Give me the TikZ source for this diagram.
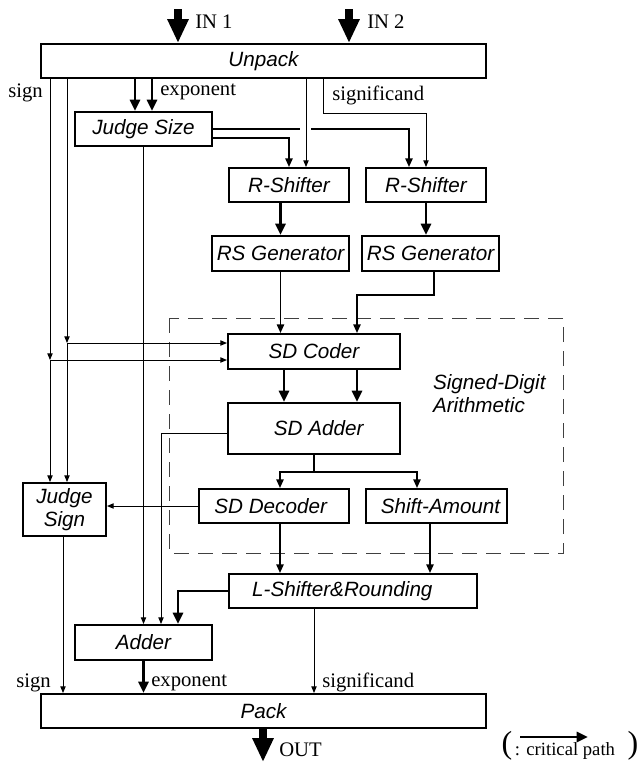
\documentclass[tikz,border=0pt]{standalone}
\usepackage{fontspec}
\setmainfont{Liberation Serif}
\newfontfamily\blockfont{Liberation Sans}
\usetikzlibrary{arrows.meta}

\begin{document}
\begin{tikzpicture}[x=0.75pt, y=-0.75pt,
    block/.style={draw, rectangle, line width=1.5pt, inner sep=0pt, font=\blockfont\itshape\fontsize{15.5}{17}\selectfont},
    lbl/.style={inner sep=0pt, font=\fontsize{15.5}{18}\selectfont},
    wire/.style={line width=0.7pt, -{Triangle[width=4pt,length=5pt]}},
    bus/.style={line width=1.2pt, -{Triangle[width=5.5pt,length=6.5pt]}},
    crit/.style={line width=2.2pt, -{Triangle[width=7.5pt,length=8.5pt]}},
    io/.style={line width=6pt, -{Triangle[width=15pt,length=18pt]}}]
    \useasboundingbox (0,0) rectangle (641,769);

    % Unpack
    \node[block, minimum width=333.75pt, minimum height=25.5pt] (unpack) at (263.5,61) {Unpack};

    % Judge Size
    \node[block, minimum width=102.75pt, minimum height=25.5pt] (jsize) at (143.5,129) {Judge Size};

    % R-Shifter
    \node[block, minimum width=90pt, minimum height=25.5pt] (rsh1) at (289,185) {R-Shifter};
    \node[block, minimum width=90pt, minimum height=25.5pt] (rsh2) at (426,185) {R-Shifter};

    % RS Generator
    \node[block, minimum width=102.75pt, minimum height=26.25pt] (rsg1) at (280.5,253.5) {RS Generator};
    \node[block, minimum width=102.75pt, minimum height=26.25pt] (rsg2) at (430.5,253.5) {RS Generator};

    % Signed-Digit Arithmetic
    \draw[dash pattern=on 11pt off 7pt, line width=0.7pt, black!75] (169,318) rectangle (563,553);
    \node[block, draw=none, align=left, anchor=west] (sdatext) at (432,393.5) {Signed-Digit\\Arithmetic};
    \node[block, minimum width=129pt, minimum height=26.25pt] (sdc) at (314,351.5) {SD Coder};
    \node[block, minimum width=129pt, minimum height=38.25pt] (sda) at (314,428.5) {\hspace*{7pt}SD Adder};
    \node[block, minimum width=112.5pt, minimum height=25.5pt] (sdd) at (274,506) {SD Decoder\hspace*{5pt}};
    \node[block, minimum width=105.75pt, minimum height=25.5pt] (samt) at (436.5,506) {\hspace*{6pt}Shift-Amount};

    % L-Shifter&Rounding
    \node[block, minimum width=186pt, minimum height=25.5pt] (lsh) at (353,591) {L-Shifter\&Rounding\hspace*{16pt}};

    % Judge Sign
    \node[block, minimum width=62.25pt, minimum height=39.75pt, align=center] (jsign) at (64.5,509.5) {Judge\\Sign};

    % Adder
    \node[block, minimum width=102.75pt, minimum height=26.25pt] (adder) at (143.5,642.5) {Adder};

    % Pack
    \node[block, minimum width=333.75pt, minimum height=25.5pt] (pack) at (263.5,711) {Pack};

    % Labels
    \node[lbl, anchor=west] (in1) at (195,22) {IN 1};
    \node[lbl, anchor=west] (in2) at (367,22) {IN 2};
    \node[lbl, anchor=east] (sgntop) at (43,93) {sign};
    \node[lbl, anchor=west] (exptop) at (160,92) {exponent};
    \node[lbl, anchor=west] (sigtop) at (332,95) {significand};
    \node[lbl, anchor=east] (sgnbot) at (51,683) {sign};
    \node[lbl, anchor=west] (expbot) at (151,683) {exponent};
    \node[lbl, anchor=west] (sigbot) at (322,682) {significand};
    \node[lbl, anchor=west] (out) at (279,750) {OUT};

    % Ein- und Ausgang
    \coordinate (srca) at (178,9);
    \coordinate (srcb) at (349,9);
    \coordinate (sinko) at (263,762);
    \draw[io] (srca) -- (srca |- unpack.north);
    \draw[io] (srcb) -- (srcb |- unpack.north);
    \draw[io] (pack.south -| sinko) -- (sinko);

    % sign
    \coordinate (ja) at (67,343);
    \coordinate (jb) at (50,360);
    \draw[wire] (unpack.south -| ja) -- (ja);
    \draw[wire] (ja) -- (sdc.west |- ja);
    \draw[wire] (ja) -- (jsign.north -| ja);
    \draw[wire] (unpack.south -| jb) -- (jb);
    \draw[wire] (jb) -- (sdc.west |- jb);
    \draw[wire] (jb) -- (jsign.north -| jb);

    % exponent
    \draw[crit] (unpack.south -| 135,0) -- (jsize.north -| 135,0);
    \draw[crit] (unpack.south -| 152,0) -- (jsize.north -| 152,0);

    % Judge Size -> R-Shifter
    \draw[bus] (jsize.east |- 0,138) -| (rsh1.north);
    \draw[bus] (jsize.east |- 0,129) -| (rsh2.north -| 409,0);
    \draw[white, line width=3pt] (300,129) -- (311,129);

    % significand
    \draw[wire] (unpack.south -| 306,0) -- (rsh1.north -| 306,0);
    \draw[wire] (unpack.south -| 323,0) |- (rsh2.north |- 0,113) -- (rsh2.north);

    % R-Shifter -> RS Generator -> SD Coder
    \draw[crit] (rsh1.south -| rsg1.north) -- (rsg1.north);
    \draw[crit] (rsh2.south) -- (rsg2.north -| rsh2.south);
    \draw[bus] (rsg1.south) -- (sdc.north -| rsg1.south);
    \draw[bus] (rsg2.south -| 434,0) |- (357,295) -- (sdc.north -| 357,0);

    % SD Coder -> SD Adder
    \draw[crit] (sdc.south -| 284,0) -- (sda.north -| 284,0);
    \draw[crit] (sdc.south -| 357,0) -- (sda.north -| 357,0);

    % SD Adder -> SD Decoder, Shift-Amount, Adder
    \coordinate (jc) at (314,472);
    \draw[line width=1.2pt] (sda.south) -- (jc);
    \draw[bus] (jc) -| (sdd.north -| 280,0);
    \draw[bus] (jc) -| (samt.north -| 417,0);
    \draw[wire] (sda.west |- 0,433) -| (adder.north -| 161,0);

    % SD Decoder -> Judge Sign
    \draw[wire] (sdd.west) -- (jsign.east |- sdd.west);

    % -> L-Shifter&Rounding
    \draw[bus] (sdd.south -| 280,0) -- (lsh.north -| 280,0);
    \draw[bus] (samt.south -| 430,0) -- (lsh.north -| 430,0);

    % -> Adder
    \draw[crit] (lsh.west) -| (adder.north -| 178,0);
    \draw[wire] (jsize.south) -- (adder.north);

    % -> Pack
    \draw[wire] (jsign.south -| 63,0) -- (pack.north -| 63,0);
    \draw[crit] (adder.south) -- (pack.north -| adder.south);
    \draw[wire] (lsh.south -| 314,0) -- (pack.north -| 314,0);

    % critical path
    \node[lbl, font=\fontsize{24}{24}\selectfont] (lparen) at (507,746) {(};
    \node[lbl, font=\fontsize{24}{24}\selectfont] (rparen) at (633,746) {)};
    \node[lbl, font=\fontsize{14}{16}\selectfont] (legtext) at (565,751) {: critical path};
    \coordinate (lega) at (520,737);
    \coordinate (legb) at (588,737);
    \draw[crit] (lega) -- (legb);
\end{tikzpicture}
\end{document}
